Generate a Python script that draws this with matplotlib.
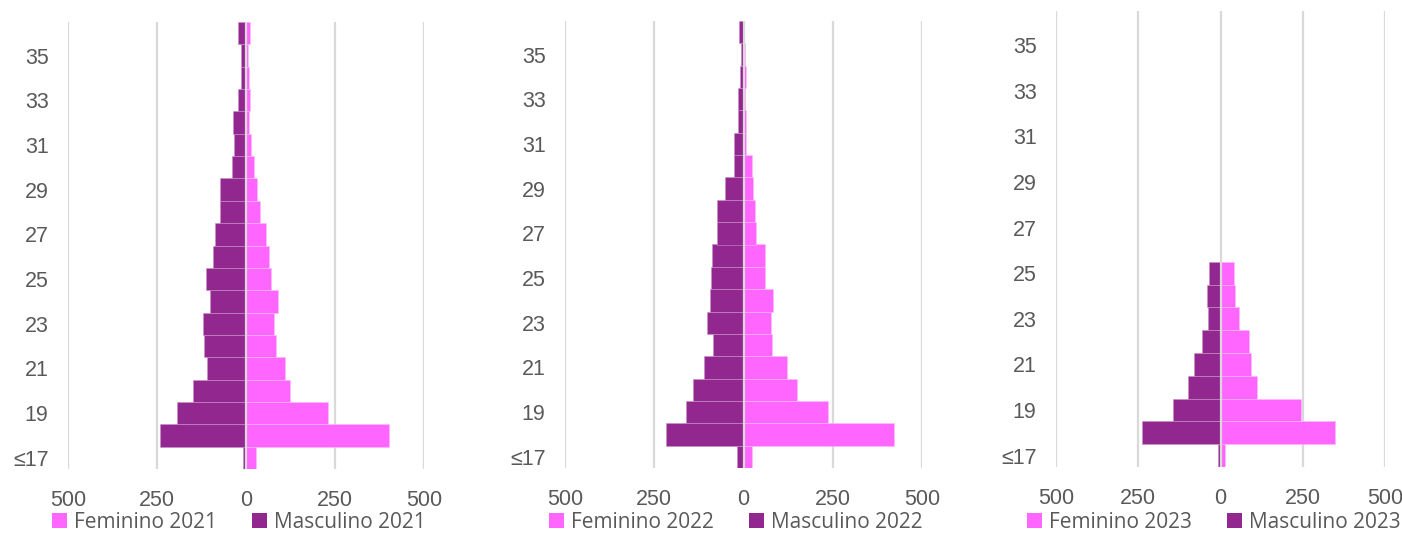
import matplotlib
matplotlib.use('Agg')
import matplotlib.pyplot as plt
from matplotlib.patches import Patch
import numpy as np

# age groups, bottom to top
ages = ['≤17'] + [str(a) for a in range(18, 37)]

fem_2021 = [27, 402, 230, 125, 109, 84, 79, 89, 70, 66, 57, 39, 31, 22, 13, 9, 10, 8, 7, 10]
masc_2021 = [9, 241, 195, 148, 109, 117, 120, 102, 111, 94, 86, 74, 73, 38, 33, 36, 22, 14, 15, 23]

fem_2022 = [25, 421, 238, 151, 123, 79, 77, 83, 60, 61, 35, 32, 28, 23, 8, 8, 3, 7, 3, 1]
masc_2022 = [17, 216, 160, 142, 111, 85, 103, 94, 92, 87, 73, 75, 52, 28, 28, 15, 15, 11, 7, 13]

fem_2023 = [13, 347, 245, 111, 94, 87, 55, 44, 41, 0, 0, 0, 0, 0, 0, 0, 0, 0, 0, 0]
masc_2023 = [7, 239, 144, 100, 80, 55, 37, 42, 34, 0, 0, 0, 0, 0, 0, 0, 0, 0, 0, 0]

years = ['2021', '2022', '2023']
female = [fem_2021, fem_2022, fem_2023]
male = [masc_2021, masc_2022, masc_2023]

xticks = [-500, -250, 0, 250, 500]
xticklabels = ['500', '250', '0', '250', '500']

PINK = '#FF66FF'
PURPLE = '#92278F'
GRID = '#D9D9D9'
TXT = '#595959'

W, H = 1402, 533
fig = plt.figure(figsize=(W / 100, H / 100), dpi=100)

# panel boxes in pixels: left, top, right, bottom
boxes = [(68, 22, 424, 469), (565, 21, 922, 468), (1056, 11, 1385, 467)]
legend_centers = [239, 736, 1214]

tick_font = ['Liberation Sans Narrow', 'Liberation Sans']

for i in range(3):
    l, t, r, b = boxes[i]
    ax = fig.add_axes([l / W, (H - b) / H, (r - l) / W, (b - t) / H])
    y = np.arange(len(ages))
    ax.barh(y, female[i], height=1.0, color=PINK, edgecolor='#FFB8FF', linewidth=0.4, zorder=2)
    ax.barh(y, -np.array(male[i]), height=1.0, color=PURPLE, edgecolor='#C890C6', linewidth=0.4, zorder=2)
    for xv in xticks:
        ax.axvline(xv, color=GRID, lw=1.6, zorder=1 if xv != 0 else 3)
    ax.set_xlim(-500, 500)
    ax.set_ylim(-0.5, len(ages) - 0.5)
    ax.set_xticks(xticks)
    ax.set_xticklabels(xticklabels)
    ax.set_yticks(y[::2])
    ax.set_yticklabels(ages[::2])
    for lab in ax.get_xticklabels() + ax.get_yticklabels():
        lab.set_family(tick_font)
        lab.set_fontsize(15.5)
        lab.set_color(TXT)
    ax.tick_params(axis='x', length=0, pad=15)
    ax.tick_params(axis='y', length=0, pad=14)
    for s in ax.spines.values():
        s.set_visible(False)

    handles = [Patch(facecolor=PINK, label='Feminino ' + years[i]),
               Patch(facecolor=PURPLE, label='Masculino ' + years[i])]
    fig.legend(handles=handles, loc='center', ncol=2, frameon=False,
               bbox_to_anchor=(legend_centers[i] / W, (H - 522) / H),
               prop={'family': 'Open Sans', 'size': 15}, labelcolor=TXT,
               handlelength=0.7, handleheight=0.7, handletextpad=0.35,
               columnspacing=1.7, borderpad=0, borderaxespad=0)

fig.savefig('out.png', dpi=100, facecolor='white')
